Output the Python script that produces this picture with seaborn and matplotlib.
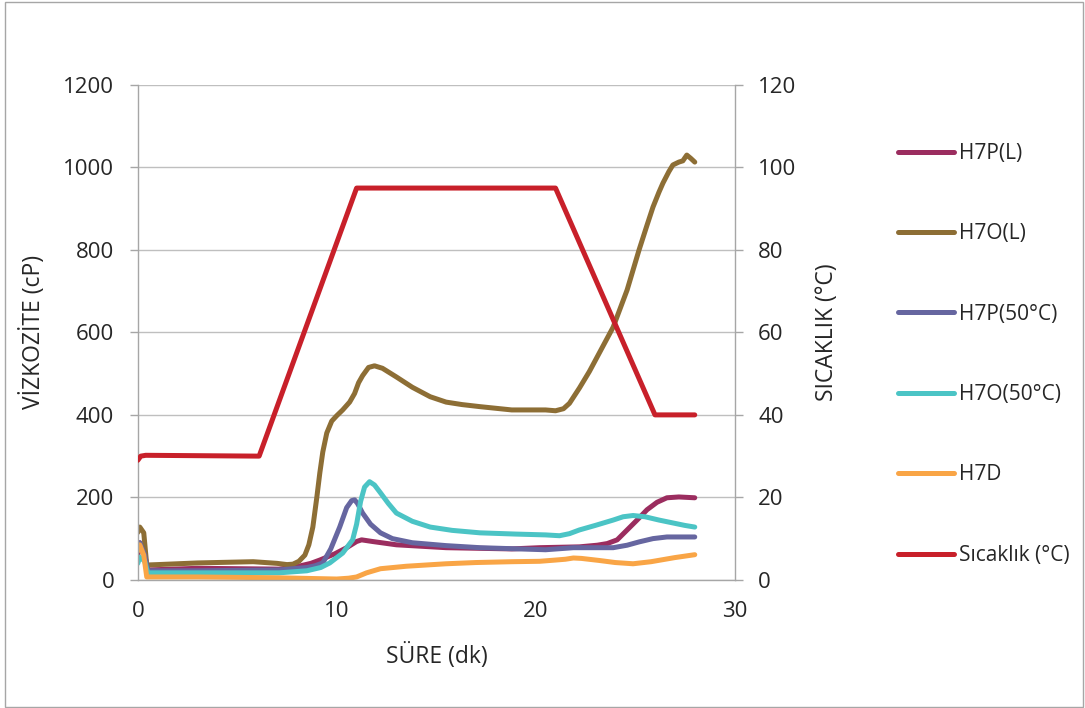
import matplotlib
matplotlib.use("Agg")
import matplotlib.pyplot as plt
import seaborn as sns
from matplotlib.patches import Rectangle

# ------------------ DATA ------------------ #
# time (dk) / viscosity (cP)
h7pl_x = [0, 0.1, 0.35, 0.5, 3, 7.1, 8.0, 8.7, 9.15, 9.9, 10.5, 11.0, 11.25, 11.8, 13.0, 15.5, 18.8, 20.2,
          22.2, 23.1, 23.6, 24.1, 24.6, 25.1, 25.6, 26.1, 26.6, 27.2, 28.0]
h7pl_y = [60, 90, 60, 24, 28, 26, 32, 40, 48, 63, 78, 93, 97, 93, 85, 78, 75, 78,
          80, 84, 88, 97, 121, 145, 170, 188, 199, 201, 199]

h7ol_x = [0, 0.1, 0.3, 0.45, 1, 3, 5.8, 7.0, 7.5, 7.8, 8.1, 8.4, 8.6, 8.8, 9.0, 9.15, 9.3, 9.5, 9.75,
          10.0, 10.3, 10.65, 10.9, 11.1, 11.3, 11.6, 11.9, 12.3, 13.0, 13.8, 14.7, 15.5, 16.3, 17.2,
          18.8, 20.5, 21.0, 21.4, 21.7, 22.2, 22.7, 23.2, 23.9, 24.6, 25.2, 25.6, 25.9, 26.2, 26.4,
          26.7, 26.9, 27.2, 27.4, 27.6, 27.8, 28.0]
h7ol_y = [115, 128, 114, 36, 37, 41, 44, 40, 37, 38, 45, 60, 85, 128, 200, 259, 310, 356, 385,
          398, 412, 431, 452, 478, 495, 515, 519, 513, 492, 467, 444, 431, 425, 420,
          412, 412, 410, 415, 428, 465, 505, 550, 613, 703, 800, 860, 904, 940, 962,
          990, 1006, 1013, 1016, 1030, 1022, 1013]

h7p50_x = [0, 0.1, 0.35, 0.5, 3, 7.1, 8.5, 8.9, 9.3, 9.7, 10.15, 10.5, 10.75, 10.9, 11.05, 11.3, 11.7,
           12.2, 12.8, 13.8, 15.5, 17.2, 20.5, 21.9, 23.9, 24.6, 25.2, 25.9, 26.6, 28.0]
h7p50_y = [70, 90, 60, 22, 22, 24, 30, 34, 41, 75, 128, 175, 192, 194, 185, 162, 135,
           114, 100, 90, 83, 78, 73, 78, 78, 84, 92, 100, 104, 104]

h7o50_x = [0, 0.1, 0.35, 0.5, 3, 7.1, 8.5, 9.2, 9.65, 10.3, 10.8, 11.0, 11.2, 11.4, 11.65, 11.9, 12.2,
           12.6, 13.0, 13.8, 14.7, 15.8, 17.2, 19.0, 20.5, 21.2, 21.7, 22.2, 23.0, 23.9, 24.4, 24.9,
           25.5, 26.2, 26.9, 27.5, 28.0]
h7o50_y = [40, 55, 45, 17, 17, 17, 22, 30, 41, 65, 97, 135, 190, 225, 238, 230, 211,
           185, 162, 142, 128, 120, 114, 111, 109, 107, 112, 121, 132, 145, 153, 156,
           153, 145, 138, 132, 128]

h7d_x = [0, 0.1, 0.3, 0.45, 3, 7.1, 9.0, 10.0, 10.6, 11.0, 11.5, 12.2, 13.5, 15.5, 17.0, 18.8, 20.2,
         21.0, 21.5, 21.9, 22.3, 23.2, 24.0, 24.9, 25.8, 27.0, 28.0]
h7d_y = [70, 85, 60, 7, 7, 5, 3, 2, 4, 7, 17, 27, 33, 39, 42, 44, 45,
         48, 50, 53, 52, 47, 42, 39, 44, 54, 61]

# time (dk) / temperature (°C)
temp_x = [0, 0.15, 0.4, 6.1, 11.0, 11.4, 21.0, 26.0, 28.0]
temp_y = [29, 30, 30.2, 30, 95, 95, 95, 40, 40]

series = [
    ("H7P(L)", h7pl_x, h7pl_y, "#9B2D5F"),
    ("H7O(L)", h7ol_x, h7ol_y, "#8D6E35"),
    ("H7P(50°C)", h7p50_x, h7p50_y, "#6666A0"),
    ("H7O(50°C)", h7o50_x, h7o50_y, "#4BC4C5"),
    ("H7D", h7d_x, h7d_y, "#F9A546"),
]

# ------------------ STYLE ------------------ #
sns.set_style("white")
plt.rcParams['font.family'] = ['Open Sans', 'DejaVu Sans']
plt.rcParams['font.size'] = 15
plt.rcParams['lines.solid_joinstyle'] = 'round'
plt.rcParams['lines.solid_capstyle'] = 'round'
text_col = '#262626'
axis_col = '#A6A6A6'
grid_col = '#BFBFBF'

fig, ax = plt.subplots(figsize=(10.85, 7.08), dpi=100)
fig.subplots_adjust(left=0.127, right=0.677, bottom=0.181, top=0.880)
ax2 = ax.twinx()

handles = []
for name, xs, ys, col in series:
    sns.lineplot(x=xs, y=ys, ax=ax, color=col, lw=3.6, sort=False, label=name, legend=False)
    handles.append(ax.lines[-1])
sns.lineplot(x=temp_x, y=temp_y, ax=ax2, color="#C8202A", lw=3.6, sort=False, label="Sıcaklık (°C)", legend=False)
handles.append(ax2.lines[-1])

# axes
ax.set_xlim(0, 30)
ax.set_ylim(0, 1200)
ax2.set_ylim(0, 120)
ax.set_xticks([0, 10, 20, 30])
ax.set_yticks(range(0, 1201, 200))
ax2.set_yticks(range(0, 121, 20))

ax.yaxis.grid(True, color=grid_col, lw=1)
ax.xaxis.grid(False)
ax2.grid(False)
ax.set_axisbelow(True)

for a in (ax, ax2):
    for s in a.spines.values():
        s.set_color(axis_col)
        s.set_linewidth(1)
    a.spines['top'].set_visible(False)
ax.spines['right'].set_visible(False)
ax2.spines['left'].set_visible(False)
ax2.spines['bottom'].set_visible(False)

ax.tick_params(axis='both', direction='out', length=6, width=1, color=axis_col, labelcolor=text_col, labelsize=16)
ax.tick_params(axis='y', pad=11)
ax.tick_params(axis='x', pad=9)
ax2.tick_params(axis='y', direction='out', length=6, width=1, color=axis_col, labelcolor=text_col, labelsize=16, pad=11)

ax.set_xlabel("SÜRE (dk)", color=text_col, fontsize=16.5)
ax.set_ylabel("VİZKOZİTE (cP)", color=text_col, fontsize=16.5)
ax2.set_ylabel("SICAKLIK (°C)", color=text_col, fontsize=16.5)
ax.xaxis.set_label_coords(0.501, -0.128)
ax.yaxis.set_label_coords(-0.154, 0.5)
ax2.yaxis.set_label_coords(1.134, 0.5)

fig.legend(handles, [h.get_label() for h in handles], loc='upper left',
           bbox_to_anchor=(0.828, 1 - 143 / 708), frameon=False, fontsize=15,
           handlelength=2.65, handletextpad=0.25, labelspacing=2.85, borderaxespad=0,
           borderpad=0, labelcolor=text_col)

# outer chart border
fig.patches.append(Rectangle((5 / 1085, 1 / 708), 1078 / 1085, 705 / 708, transform=fig.transFigure,
                             fill=False, edgecolor=axis_col, lw=1))

plt.savefig("out.png", dpi=100)
